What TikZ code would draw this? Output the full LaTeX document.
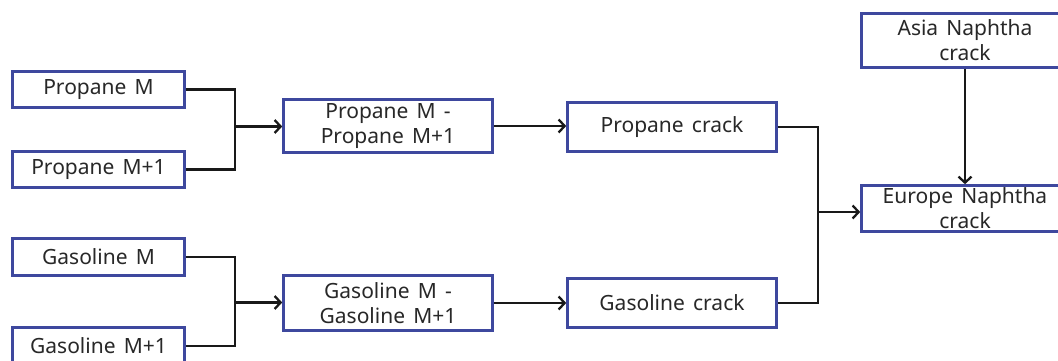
\documentclass[tikz,border=0pt]{standalone}
\usepackage{fontspec}
\setmainfont{Noto Sans}[WordSpace={1.5}]
\usetikzlibrary{arrows.meta}
\definecolor{boxblue}{RGB}{62,72,158}
\definecolor{txt}{RGB}{40,40,40}
\begin{document}
\begin{tikzpicture}[x=1pt,y=-1pt,
  box/.style={draw=boxblue,line width=2.6pt,fill=white,text=txt,align=center,inner sep=0pt,
              font=\fontsize{21}{25}\selectfont},
  conn/.style={draw=black!90,line width=2.3pt},
  arr/.style={conn,-{Straight Barb[length=6pt,width=13pt,line width=2.3pt]}}]
\useasboundingbox (0,0) rectangle (1058,361);
\clip (0,0) rectangle (1058,361);
\fill[white] (0,0) rectangle (1058,361);
% left column
\node[box,minimum width=172pt,minimum height=36pt] (pm)  at (98.5,89.5)  {Propane M};
\node[box,minimum width=172pt,minimum height=36pt] (pm1) at (98.5,169.5) {Propane M+1};
\node[box,minimum width=172pt,minimum height=37pt] (gm)  at (98.5,257)   {Gasoline M};
\node[box,minimum width=172pt,minimum height=37pt] (gm1) at (98.5,346)   {Gasoline M+1};
% differences
\node[box,minimum width=209pt,minimum height=53pt] (pd) at (388,126) {Propane M -\\Propane M+1};
\node[box,minimum width=209pt,minimum height=55pt] (gd) at (388,303) {Gasoline M -\\Gasoline M+1};
% cracks
\node[box,minimum width=209pt,minimum height=49pt] (pc) at (672,127) {Propane crack};
\node[box,minimum width=209pt,minimum height=49pt] (gc) at (672,303) {Gasoline crack};
% naphtha
\node[box,minimum width=207pt,minimum height=54pt] (asia) at (965,40.5)  {Asia Naphtha\\crack};
\node[box,minimum width=207pt,minimum height=46pt] (eu)   at (965,208.5) {Europe Naphtha\\crack};
% junctions
\coordinate (j1) at (235,126.5);
\coordinate (j2) at (235,302.5);
\coordinate (j3) at (818,212);
% connectors
\draw[conn] (pm.east) -| (j1) |- (pm1.east);
\draw[arr] (j1) -- (pd.west|-j1);
\draw[conn] (gm.east) -| (j2) |- (gm1.east);
\draw[arr] (j2) -- (gd.west|-j2);
\draw[arr] (pd.east) -- (pc.west|-pd.east);
\draw[arr] (gd.east) -- (gc.west|-gd.east);
\draw[conn] (pc.east) -| (j3) |- (gc.east);
\draw[arr] (j3) -- (eu.west|-j3);
\draw[arr] (asia.south) -- (eu.north);
\end{tikzpicture}
\end{document}
